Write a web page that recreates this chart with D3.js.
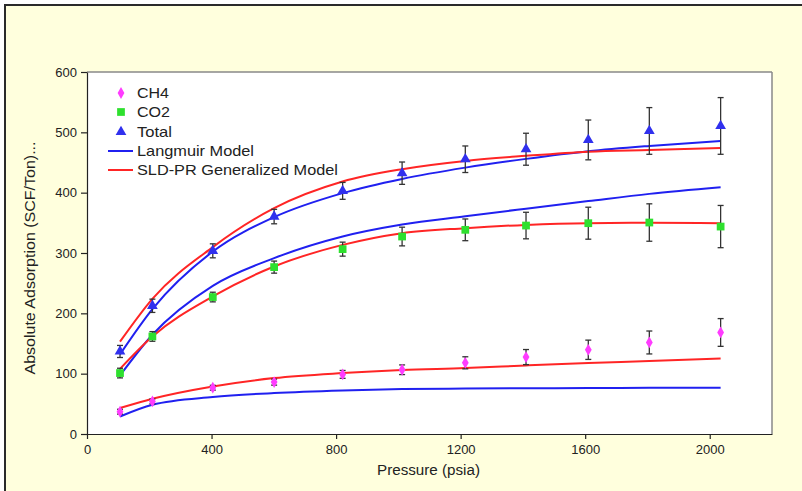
<!DOCTYPE html>
<html><head><meta charset="utf-8">
<script src="https://cdn.jsdelivr.net/npm/d3@7"></script>
<style>body{margin:0;background:#fff}svg{display:block}text{font-family:"Liberation Sans",Arial,sans-serif}</style>
</head><body><svg id="c" width="802" height="491"></svg>
<script>
const pressure = [106, 210, 404, 601, 821, 1012, 1215, 1410, 1610, 1806, 2035];
const ch4 = [37, 54, 76.7, 86, 98.8, 106.5, 118, 127.5, 139.6, 151.7, 168.3];
const ch4Err = [4, 4, 4, 5, 6.5, 8, 10, 12.5, 16, 19, 23];
const co2 = [101, 161.7, 227, 276.6, 306.4, 327.3, 338.4, 345.5, 349.4, 350.5, 343.8];
const co2Err = [8, 8, 8, 10, 11.6, 15.5, 18, 22, 26.5, 31, 35];
const total = [136.8, 212.5, 303.6, 360.4, 403, 432.3, 455.4, 472, 487.4, 502.3, 510.6];
const totalErr = [10, 11, 11.6, 12, 14, 18.5, 22, 26.5, 33, 38.7, 47];
// model curves read at the same pressures
const langCH4 = [29, 48.5, 61.3, 67.9, 72.2, 74.5, 75.3, 75.8, 76.2, 76.5, 76.7];
const sldCH4 = [43, 58.5, 78.9, 92.7, 101, 106, 109.3, 113.6, 117.6, 120.9, 125.2];
const langCO2 = [97, 164.5, 245.6, 291.5, 327.3, 347.1, 361, 373.5, 386, 398, 409];
const sldCO2 = [108, 161.6, 228, 277.6, 313.5, 332.9, 341.2, 346.6, 349.4, 350, 349.4];
const langTotal = [132, 207, 302.4, 359.4, 399.2, 422.8, 441.5, 456, 468.7, 477.5, 485.8];
const sldTotal = [153, 224, 309.8, 374.3, 418.4, 438.9, 452.6, 461, 468, 470.9, 474.2];
const xTicks = [0, 400, 800, 1200, 1600, 2000];
const yTicks = [0, 100, 200, 300, 400, 500, 600];
const legendLabels = ["CH4", "CO2", "Total", "Langmuir Model", "SLD-PR Generalized Model"];

const svg = d3.select("#c");
svg.append("rect").attr("x",5).attr("y",5).attr("width",820).attr("height",510)
  .attr("fill","#FFFFDD").attr("stroke","#2a2a2a").attr("stroke-width",2);

const L=87, R=772, T=72, B=434;
const x = d3.scaleLinear().domain([0,2200]).range([L,R]);
const y = d3.scaleLinear().domain([0,600]).range([B,T]);

svg.append("rect").attr("x",L).attr("y",T).attr("width",R-L).attr("height",B-T).attr("fill","#fff");
svg.append("line").attr("x1",L).attr("x2",R).attr("y1",T).attr("y2",T).attr("stroke","#888").attr("stroke-width",1.5);
svg.append("line").attr("x1",R).attr("x2",R).attr("y1",T).attr("y2",B).attr("stroke","#888").attr("stroke-width",1.5);

const fmt = d3.format("d");
const xa = svg.append("g").attr("transform",`translate(0,${B})`)
  .call(d3.axisBottom(x).tickValues(xTicks).tickFormat(fmt).tickSize(5).tickPadding(6).tickSizeOuter(0));
const ya = svg.append("g").attr("transform",`translate(${L},0)`)
  .call(d3.axisLeft(y).tickValues(yTicks).tickFormat(fmt).tickSize(6).tickPadding(4).tickSizeOuter(0));
[xa,ya].forEach(a=>{
  a.selectAll("path,line").attr("stroke","#222").attr("stroke-width",1.2);
  a.selectAll("text").attr("font-size",13).attr("fill","#222").style("font-family","'Liberation Sans',Arial,sans-serif");
});

svg.append("text").attr("x",428.5).attr("y",475).attr("text-anchor","middle")
  .attr("font-size",14).attr("fill","#222")
  .attr("textLength",103).attr("lengthAdjust","spacingAndGlyphs").text("Pressure (psia)");
svg.append("text").attr("transform",`translate(35,258) rotate(-90)`).attr("text-anchor","middle")
  .attr("font-size",14).attr("fill","#222")
  .attr("textLength",233).attr("lengthAdjust","spacingAndGlyphs").text("Absolute Adsorption (SCF/Ton)...");

const line = d3.line().x((d,i)=>x(pressure[i])).y(d=>y(d)).curve(d3.curveMonotoneX);
const curves = [[langCH4,"#2020F0"],[langCO2,"#2020F0"],[langTotal,"#2020F0"],[sldCH4,"#FF2525"],[sldCO2,"#FF2525"],[sldTotal,"#FF2525"]];
curves.forEach(([d,c])=>svg.append("path").attr("d",line(d)).attr("fill","none").attr("stroke",c).attr("stroke-width",2));

function errBars(vals, errs){
  const g = svg.append("g").attr("stroke","#333").attr("stroke-width",1.3);
  vals.forEach((v,i)=>{
    const cx=x(pressure[i]), y1=y(v+errs[i]), y2=y(v-errs[i]);
    g.append("line").attr("x1",cx).attr("x2",cx).attr("y1",y1).attr("y2",y2);
    g.append("line").attr("x1",cx-3).attr("x2",cx+3).attr("y1",y1).attr("y2",y1);
    g.append("line").attr("x1",cx-3).attr("x2",cx+3).attr("y1",y2).attr("y2",y2);
  });
}
errBars(ch4,ch4Err); errBars(co2,co2Err); errBars(total,totalErr);

const sym = {
  diamond: d3.symbol().type(d3.symbolDiamond).size(40),
  square: d3.symbol().type(d3.symbolSquare).size(60),
  triangle: d3.symbol().type(d3.symbolTriangle).size(50)
};
function pts(vals, s, c){
  svg.append("g").selectAll("path").data(vals).join("path")
    .attr("d",s).attr("fill",c)
    .attr("transform",(d,i)=>`translate(${x(pressure[i])},${y(d)})`);
}
pts(ch4, sym.diamond, "#FF3CFF");
pts(co2, sym.square, "#2EE02E");
pts(total, sym.triangle, "#3030EE");

// legend
const lg = svg.append("g");
const ly = [93, 112, 132, 151, 170];
const lw = [32, 33, 35, 117, 201];
lg.append("path").attr("d",sym.diamond).attr("fill","#FF3CFF").attr("transform",`translate(121,${ly[0]})`);
lg.append("path").attr("d",sym.square).attr("fill","#2EE02E").attr("transform",`translate(121,${ly[1]})`);
lg.append("path").attr("d",sym.triangle).attr("fill","#3030EE").attr("transform",`translate(121,${ly[2]})`);
lg.append("line").attr("x1",108).attr("x2",133).attr("y1",ly[3]).attr("y2",ly[3]).attr("stroke","#2020F0").attr("stroke-width",2);
lg.append("line").attr("x1",108).attr("x2",133).attr("y1",ly[4]).attr("y2",ly[4]).attr("stroke","#FF2525").attr("stroke-width",2);
legendLabels.forEach((t,i)=>lg.append("text").attr("x",137).attr("y",ly[i]+5).attr("font-size",14.5).attr("fill","#222")
  .attr("textLength",lw[i]).attr("lengthAdjust","spacingAndGlyphs").text(t));
</script></body></html>
